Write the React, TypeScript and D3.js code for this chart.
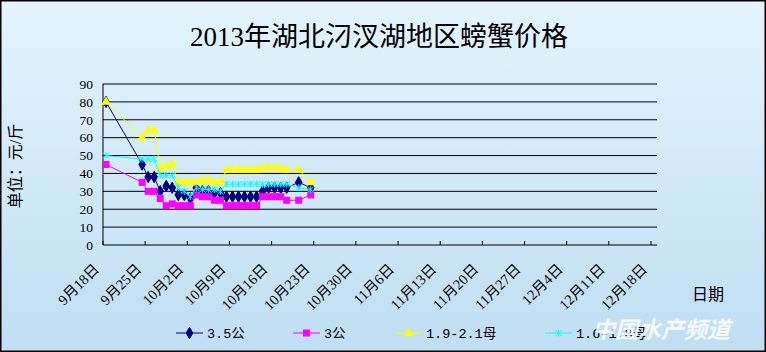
import * as d3 from "d3";

// dates with a price entry (the rest of the axis to 12/18 stays empty)
const dates = [
  "2013-09-18",
  "2013-09-24", "2013-09-25", "2013-09-26", "2013-09-27", "2013-09-28", "2013-09-29",
  "2013-09-30", "2013-10-01", "2013-10-02", "2013-10-03", "2013-10-04", "2013-10-05",
  "2013-10-06", "2013-10-07", "2013-10-08", "2013-10-09", "2013-10-10", "2013-10-11",
  "2013-10-12", "2013-10-13", "2013-10-14", "2013-10-15", "2013-10-16", "2013-10-17",
  "2013-10-18", "2013-10-20", "2013-10-22",
];

const male35 = [80, 45, 38, 38, 30, 33, 32, 28, 28, 26, 32, 30, 30, 29, 29, 27, 27, 27, 27, 27, 27, 30, 32, 32, 32, 32, 35, 32];
const male3 = [45, 35, 30, 30, 26, 22, 23, 22, 22, 22, 28, 27, 27, 25, 25, 22, 22, 22, 22, 22, 22, 27, 27, 27, 27, 25, 25, 28];
const female19 = [80, 60, 64, 64, 43, 44, 45, 35, 35, 35, 35, 36, 36, 35, 35, 42, 42, 42, 42, 42, 42, 43, 43, 43, 43, 42, 42, 35];
const female16 = [50, 48, 48, 48, 39, 39, 39, 32, 30, 27, 32, 31, 31, 31, 30, 34, 34, 34, 34, 34, 34, 34, 34, 34, 34, 34, 32, 31];

const seriesNames = ["3.5公", "3公", "1.9-2.1母", "1.6-1.8母"];
const seriesColors = ["#000080", "#ff00ff", "#ffff00", "#00ffff"];
const seriesMarkers = ["diamond", "square", "triangle", "star"];
const seriesValues = [male35, male3, female19, female16];

const yTicks = [0, 10, 20, 30, 40, 50, 60, 70, 80, 90];

const W = 766;
const H = 352;
const cjk = "'Liberation Serif', 'Noto Sans CJK SC', serif";
const legendFont = "'Liberation Mono', 'Noto Sans CJK SC', monospace";

const parse = (s: string) => {
  const [yy, mm, dd] = s.split("-").map(Number);
  return new Date(Date.UTC(yy, mm - 1, dd));
};

function Marker({ kind, color, cx, cy }: { kind: string; color: string; cx: number; cy: number }) {
  if (kind === "diamond") {
    return <path d={d3.symbol(d3.symbolDiamond, 38)()!} transform={`translate(${cx},${cy})`} fill={color} stroke={color} />;
  }
  if (kind === "square") {
    return <rect x={cx - 3.5} y={cy - 3.5} width={7} height={7} fill={color} />;
  }
  if (kind === "triangle") {
    return <path d={d3.symbol(d3.symbolTriangle, 34)()!} transform={`translate(${cx},${cy})`} fill={color} stroke={color} strokeWidth={0.6} />;
  }
  // excel "star": an x with a vertical bar
  const r = 3;
  return (
    <path
      d={`M${cx - r},${cy - r}L${cx + r},${cy + r}M${cx - r},${cy + r}L${cx + r},${cy - r}M${cx},${cy - r - 0.5}L${cx},${cy + r + 0.5}`}
      stroke={color}
      strokeWidth={1}
      fill="none"
    />
  );
}

export default function App() {
  const start = parse("2013-09-18");
  const end = parse("2013-12-19");
  const x = d3.scaleUtc().domain([start, end]).range([103, 657]);
  const y = d3.scaleLinear().domain([0, 90]).range([245, 84]);
  const half = (x(parse("2013-09-19")) - x(start)) / 2;
  const days = dates.map(parse);
  const ticks = d3.utcDay.range(start, end, 7);

  const line = d3
    .line<number>()
    .x((_, i) => x(days[i]) + half)
    .y((v) => y(v));

  const legendX = [176, 293, 395, 545];

  return (
    <div style={{ position: "absolute", left: 0, top: 0 }}>
      <svg width={W} height={H} style={{ display: "block" }}>
        <defs>
          <linearGradient id="bg" x1="0" y1="0" x2="0" y2="1">
            <stop offset="0" stopColor="#e3f4fc" />
            <stop offset="1" stopColor="#bfdff3" />
          </linearGradient>
        </defs>
        <rect x={0.75} y={0.75} width={W - 1.5} height={H - 1.5} fill="url(#bg)" stroke="#000" strokeWidth={1.5} />

        <text x={379} y={46} textAnchor="middle" fontFamily={cjk} fontSize={27} fill="#000">
          2013年湖北汈汊湖地区螃蟹价格
        </text>

        {/* gridlines */}
        {yTicks.map((t) => (
          <g key={t}>
            <line x1={103} x2={657} y1={y(t)} y2={y(t)} stroke="#000" strokeWidth={1} />
            <text x={93} y={y(t)} dy="0.35em" textAnchor="end" fontFamily={cjk} fontSize={13.5} fill="#000">
              {t}
            </text>
          </g>
        ))}
        <line x1={103} x2={103} y1={84} y2={245} stroke="#000" strokeWidth={1} />

        {/* x ticks + labels */}
        {ticks.map((t) => {
          const tx = x(t);
          return (
            <g key={+t}>
              <line x1={tx} x2={tx} y1={245} y2={241} stroke="#000" />
              <text
                transform={`translate(${tx - 3},${270}) rotate(-45)`}
                textAnchor="end"
                fontFamily={cjk}
                fontSize={14.5}
                fill="#000"
              >
                {`${t.getUTCMonth() + 1}月${t.getUTCDate()}日`}
              </text>
            </g>
          );
        })}

        <text transform="translate(21,166) rotate(-90)" textAnchor="middle" fontFamily={cjk} fontSize={16} fill="#000">
          单位：元/斤
        </text>
        <text x={692} y={300} fontFamily={cjk} fontSize={16} fill="#000">
          日期
        </text>

        {/* series */}
        {seriesValues.map((vals, si) => (
          <g key={si}>
            <path d={line(vals)!} fill="none" stroke={seriesColors[si]} strokeWidth={1} />
            {vals.map((v, i) => (
              <Marker key={i} kind={seriesMarkers[si]} color={seriesColors[si]} cx={x(days[i]) + half} cy={y(v)} />
            ))}
          </g>
        ))}

        {/* legend */}
        {seriesNames.map((name, si) => {
          const lx = legendX[si];
          return (
            <g key={name}>
              <line x1={lx} x2={lx + 27} y1={333} y2={333} stroke={seriesColors[si]} strokeWidth={1} />
              <Marker kind={seriesMarkers[si]} color={seriesColors[si]} cx={lx + 13.5} cy={333} />
              <text x={lx + 31} y={333} dy="0.35em" fontFamily={legendFont} fontSize={13.5} fill="#000">
                {name}
              </text>
            </g>
          );
        })}

        {/* watermark */}
        <text x={592} y={338} fontFamily="'Noto Sans CJK SC', sans-serif" fontSize={23} fontWeight="bold" fontStyle="italic" fill="#ffffff" fillOpacity={0.85}>
          中国水产频道
        </text>
      </svg>
    </div>
  );
}
